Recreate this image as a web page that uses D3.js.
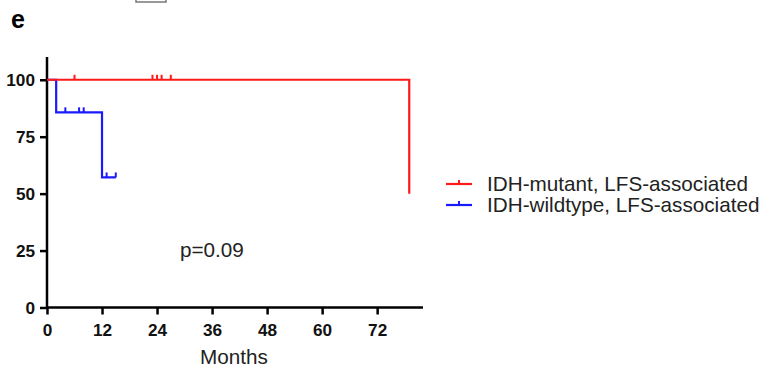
<!DOCTYPE html>
<html><head><meta charset="utf-8">
<script src="https://cdn.jsdelivr.net/npm/d3@7"></script>
<style>body{margin:0;background:#fff;} svg{display:block;font-family:Arial,"Liberation Sans",sans-serif;}</style>
</head><body>
<script>
// Data (months, survival %)
const seriesNames = ["IDH-mutant, LFS-associated", "IDH-wildtype, LFS-associated"];
const seriesColors = ["#ff1a1a", "#1a1aff"];
// step curves: [time, survival]
const mutantSteps = [[0,100],[79,100],[79,50]];
const wildSteps = [[0,100],[2,100],[2,85.7],[12,85.7],[12,57.1],[15,57.1]];
// censor marks: [time, survival]
const mutantCensor = [[6,100],[23,100],[24,100],[25,100],[27,100]];
const wildCensor = [[4,85.7],[7,85.7],[8,85.7],[13,57.1],[15,57.1]];
const xTicks = [0,12,24,36,48,60,72];
const yTicks = [0,25,50,75,100];
const pText = "p=0.09";
const panelLabel = "e";

const W = 777, H = 370;
const svg = d3.select("body").append("svg").attr("width", W).attr("height", H);

const x = d3.scaleLinear().domain([0, 82]).range([47, 423]);
const y = d3.scaleLinear().domain([0, 110]).range([307.5, 57]);

// remnant box at top
svg.append("rect").attr("x",136).attr("y",-2).attr("width",30).attr("height",4)
  .attr("fill","none").attr("stroke","#777").attr("stroke-width",1.5);

svg.append("text").attr("x",11).attr("y",28).attr("font-size",25).attr("font-weight","bold").text(panelLabel);

// axes
const xAxis = d3.axisBottom(x).tickValues(xTicks).tickSize(7).tickPadding(9).tickSizeOuter(0);
const yAxis = d3.axisLeft(y).tickValues(yTicks).tickSize(7).tickPadding(5).tickSizeOuter(0);
const gx = svg.append("g").attr("transform",`translate(0,${y(0)})`).call(xAxis);
const gy = svg.append("g").attr("transform",`translate(${x(0)},0)`).call(yAxis);
[gx,gy].forEach(g=>{
  g.attr("font-size",null).attr("font-family",null);
  g.selectAll("path").attr("stroke","#000").attr("stroke-width",2.5);
  g.selectAll("line").attr("stroke","#000").attr("stroke-width",2.5);
  g.selectAll("text").style("font-size","17.2px").style("font-weight","bold").attr("fill","#111")
    .style("font-family","Arial, 'Liberation Sans', sans-serif");
});
gx.select("path").attr("d",`M${x(0)},0H${x(82)}`);
gy.select("path").attr("d",`M0,${y(0)}V${y(110)}`);

svg.append("text").attr("x",(x(0)+x(82))/2 - 1).attr("y",364).attr("text-anchor","middle")
  .attr("font-size",20.7).attr("fill","#222").text("Months");

svg.append("text").attr("x",180).attr("y",257).attr("font-size",20.7).attr("fill","#222").text(pText);

const line = d3.line().x(d=>x(d[0])).y(d=>y(d[1]));
const curves = [mutantSteps, wildSteps];
const censors = [mutantCensor, wildCensor];
// draw blue first then red on top
[1,0].forEach(i=>{
  svg.append("path").datum(curves[i]).attr("d",line).attr("fill","none")
    .attr("stroke",seriesColors[i]).attr("stroke-width",2.2);
  svg.append("g").selectAll("line").data(censors[i]).join("line")
    .attr("x1",d=>x(d[0])).attr("x2",d=>x(d[0]))
    .attr("y1",d=>y(d[1])).attr("y2",d=>y(d[1])-5)
    .attr("stroke",seriesColors[i]).attr("stroke-width",2);
});

// legend
const lg = svg.append("g");
seriesNames.forEach((n,i)=>{
  const yy = 184 + i*21;
  lg.append("line").attr("x1",446).attr("x2",472).attr("y1",yy).attr("y2",yy)
    .attr("stroke",seriesColors[i]).attr("stroke-width",2.2);
  lg.append("line").attr("x1",459).attr("x2",459).attr("y1",yy).attr("y2",yy-4)
    .attr("stroke",seriesColors[i]).attr("stroke-width",2);
  lg.append("text").attr("x",487).attr("y",yy+6.5).attr("font-size",20.7).attr("fill","#222").text(n);
});
</script>
</body></html>
